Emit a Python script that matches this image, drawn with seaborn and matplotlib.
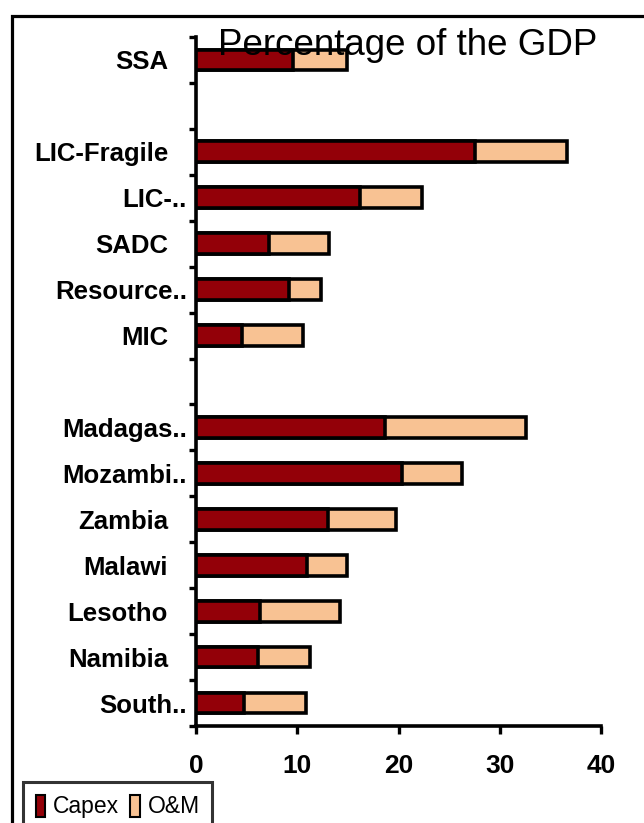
import numpy as np
import pandas as pd
import matplotlib
matplotlib.use("Agg")
import matplotlib.pyplot as plt
import matplotlib.transforms as mtransforms
from matplotlib.patches import Rectangle
import seaborn as sns

# ---- data ----
categories = ["SSA", "LIC-Fragile", "LIC-..", "SADC", "Resource..", "MIC",
              "Madagas..", "Mozambi..", "Zambia", "Malawi", "Lesotho", "Namibia", "South.."]
capex = [9.6, 27.6, 16.2, 7.2, 9.2, 4.5, 18.7, 20.3, 13.0, 11.0, 6.3, 6.1, 4.7]
om = [5.3, 9.0, 6.1, 5.9, 3.1, 6.1, 13.9, 6.0, 6.8, 3.9, 7.9, 5.2, 6.2]
order = ["SSA", "_gap1", "LIC-Fragile", "LIC-..", "SADC", "Resource..", "MIC", "_gap2",
         "Madagas..", "Mozambi..", "Zambia", "Malawi", "Lesotho", "Namibia", "South.."]
xticks = [0, 10, 20, 30, 40]
title = "Percentage of the GDP"
legend_labels = ["Capex", "O&M"]

df = pd.DataFrame({"category": categories, "capex": capex, "om": om})
df["total"] = df["capex"] + df["om"]

sns.set_theme(style="white")
plt.rcParams["font.family"] = ["Liberation Sans", "DejaVu Sans"]
plt.rcParams["text.color"] = "black"
plt.rcParams["xtick.labelcolor"] = "black"
plt.rcParams["xtick.color"] = "black"
plt.rcParams["ytick.color"] = "black"

W, H = 644, 823
fig = plt.figure(figsize=(W / 100, H / 100), dpi=100)
ax = fig.add_axes([196 / W, 1 - 726 / H, 405 / W, (726 - 37) / H])

c_capex = "#930008"
c_om = "#F8C293"
lw = 2.6

sns.barplot(data=df, y="category", x="total", order=order, orient="h",
            color=c_om, edgecolor="black", linewidth=lw, width=0.45,
            saturation=1, label=legend_labels[1], ax=ax, zorder=2)
sns.barplot(data=df, y="category", x="capex", order=order, orient="h",
            color=c_capex, edgecolor="black", linewidth=lw, width=0.45,
            saturation=1, label=legend_labels[0], ax=ax, zorder=3)

ax.set_xlim(0, 40)
ax.set_ylim(len(order) - 0.5, -0.5)
ax.set_xlabel("")
ax.set_ylabel("")
ax.set_xticks(xticks)
ax.set_xticklabels([str(t) for t in xticks], fontsize=19, fontweight="bold",
                   color="black")
ax.tick_params(axis="x", direction="out", length=6, width=2.4, pad=14, color="black",
               labelcolor="black", bottom=True)

ax.set_yticks(np.arange(len(order)))
ax.set_yticklabels([])
ax.tick_params(axis="y", which="major", length=0, left=False)
ax.set_yticks(np.arange(-0.5, len(order), 1.0), minor=True)
ax.tick_params(axis="y", which="minor", direction="out", length=5, width=2.4,
               color="black", left=True)

for s in ["top", "right"]:
    ax.spines[s].set_visible(False)
for s in ["left", "bottom"]:
    ax.spines[s].set_color("black")
    ax.spines[s].set_linewidth(2.6)
ax.grid(False)
if ax.get_legend() is not None:
    ax.get_legend().remove()

# category labels
base = mtransforms.blended_transform_factory(ax.transAxes, ax.transData)
for i, name in enumerate(order):
    if name.startswith("_gap"):
        continue
    off = -9 if name.endswith("..") else -28
    tr = base + mtransforms.ScaledTranslation(off / 100, 0, fig.dpi_scale_trans)
    ax.text(0, i, name, transform=tr, ha="right", va="center_baseline",
            fontsize=18.5, fontweight="bold", color="black")

# title overlapping the plot
fig.text(218 / W, 1 - 55 / H, title, fontsize=26.5, color="black",
         ha="left", va="baseline", zorder=10)

# outer frame
fig.add_artist(Rectangle((11.5 / W, -0.1), 1.2, 1.1 - 16.5 / H,
                         transform=fig.transFigure, fill=False,
                         edgecolor="black", linewidth=2.3, clip_on=False))

# legend
handles, labels = ax.get_legend_handles_labels()
hmap = dict(zip(labels, handles))
leg = fig.legend([hmap[l] for l in legend_labels], legend_labels,
                 loc="upper left", bbox_to_anchor=(23 / W, 1 - 782 / H),
                 ncol=2, frameon=True, fancybox=False, fontsize=16.5,
                 handlelength=0.4, handleheight=1.1, handletextpad=0.35,
                 columnspacing=0.5, borderpad=0.55, borderaxespad=0,
                 labelcolor="black")
leg.get_frame().set_edgecolor("black")
leg.get_frame().set_linewidth(2.2)
for h in leg.legend_handles:
    h.set_linewidth(1.5)

fig.savefig("out.png", dpi=100, facecolor="white")
